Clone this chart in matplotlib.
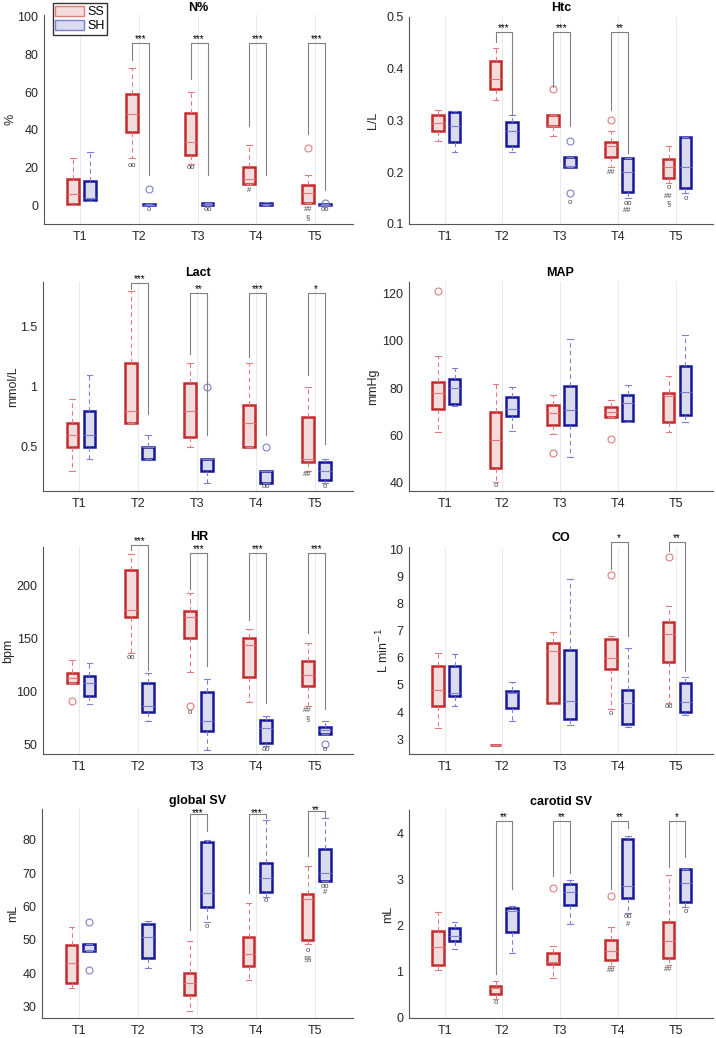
import matplotlib.pyplot as plt
from matplotlib.patches import Patch

plt.rcParams['font.family'] = ['Liberation Sans', 'DejaVu Sans']

W, H = 716, 1038
times = ['T1', 'T2', 'T3', 'T4', 'T5']

# box stats per time point: (whislo, q1, med, q3, whishi), None = no data
# --- N% ---
n_ss = [(0.3, 0.5, 5.8, 14, 25), (25, 39, 48.5, 59, 73), (22, 26.5, 33.5, 49, 60),
        (11.5, 11.5, 14, 20.5, 32), (1, 1, 6.3, 10.5, 16)]
n_ss_out = [[], [], [], [], [30.5]]
n_sh = [(2, 2.5, 4, 13, 28), (0, 0, 0.3, 0.8, 0.8), (0.2, 0.2, 0.6, 1.0, 1.0),
        (0.3, 0.3, 0.8, 1.3, 1.8), (0, 0, 0.2, 0.5, 0.5)]
n_sh_out = [[], [8.5], [], [], [1.0]]
n_sig = [(2, '***', 77, 86, 16), (3, '***', 67, 86, 16), (4, '***', 42, 86, 16), (5, '***', 38, 86, 8)]
n_notes = [(2, 'SS', 21, 'oo'), (2, 'SH', -2.5, 'o'), (3, 'SS', 20, 'oo'), (3, 'SH', -2.1, 'oo'),
           (4, 'SS', 7.6, '#'), (5, 'SS', -2.5, '##'), (5, 'SS', -6.5, '§'), (5, 'SH', -2.5, 'oo')]

# --- Htc ---
h_ss = [(0.26, 0.28, 0.295, 0.311, 0.32), (0.34, 0.36, 0.38, 0.415, 0.44), (0.27, 0.289, 0.29, 0.31, 0.31),
        (0.21, 0.23, 0.25, 0.258, 0.28), (0.18, 0.189, 0.21, 0.225, 0.25)]
h_ss_out = [[], [], [0.36], [0.30], []]
h_sh = [(0.24, 0.258, 0.29, 0.317, 0.318), (0.24, 0.25, 0.28, 0.298, 0.31), (0.211, 0.211, 0.212, 0.23, 0.23),
        (0.15, 0.161, 0.2, 0.227, 0.227), (0.16, 0.169, 0.21, 0.268, 0.268)]
h_sh_out = [[], [], [0.26, 0.16], [], []]
h_sig = [(2, '***', 0.451, 0.471, 0.311), (3, '***', 0.364, 0.471, 0.29), (4, '**', 0.32, 0.471, 0.237)]
h_notes = [(3, 'SH', 0.142, 'o'), (4, 'SS', 0.2, '##'), (4, 'SH', 0.14, 'oo'), (4, 'SH', 0.127, '##'),
           (5, 'SS', 0.17, 'o'), (5, 'SS', 0.153, '##'), (5, 'SS', 0.14, '§'), (5, 'SH', 0.149, 'o')]

# --- Lact ---
l_ss = [(0.3, 0.5, 0.6, 0.7, 0.9), (0.7, 0.7, 0.8, 1.2, 1.8), (0.5, 0.58, 0.8, 1.03, 1.2),
        (0.5, 0.5, 0.7, 0.85, 1.2), (0.3, 0.375, 0.4, 0.75, 1.0)]
l_ss_out = [[], [], [], [], []]
l_sh = [(0.4, 0.5, 0.6, 0.8, 1.1), (0.4, 0.4, 0.5, 0.5, 0.6), (0.2, 0.3, 0.4, 0.4, 0.4),
        (0.2, 0.2, 0.3, 0.3, 0.3), (0.2, 0.22, 0.3, 0.375, 0.4)]
l_sh_out = [[], [], [1.0], [0.5], []]
l_sig = [(2, '***', 1.82, 1.867, 0.77), (3, '**', 1.27, 1.78, 0.6), (4, '***', 1.25, 1.78, 0.6), (5, '*', 1.1, 1.78, 0.52)]
l_notes = [(4, 'SH', 0.167, 'oo'), (5, 'SS', 0.264, '##'), (5, 'SH', 0.167, 'o')]

# --- MAP ---
m_ss = [(61.2, 71.1, 77.7, 82.6, 93.6), (40.3, 45.9, 57.9, 69.9, 81.9), (60.3, 64.5, 69.5, 72.7, 77),
        (67.6, 67.6, 69.9, 71.8, 75.1), (61.4, 65.4, 76.6, 78.1, 85.1)]
m_ss_out = [[121], [], [52.3], [58.2], []]
m_sh = [(72.3, 73.2, 80.1, 83.7, 88.7), (61.9, 68.2, 71.3, 76.3, 80.5), (50.9, 64.3, 70.6, 80.8, 100.7),
        (65.7, 66.2, 73.7, 77.2, 81.1), (65.6, 68.5, 78.3, 89.3, 102.6)]
m_sh_out = [[], [], [], [], []]
m_sig = []
m_notes = [(2, 'SS', 38.6, 'o')]

# --- HR ---
hr_ss = [(108, 108, 112, 117.5, 129.4), (135.7, 170, 177, 214, 229), (118.4, 150, 170, 176, 192.8),
         (90, 113, 143.5, 149.8, 159), (85.5, 105.2, 115.3, 128.4, 145.7)]
hr_ss_out = [[91], [], [86], [], []]
hr_sh = [(88, 95.8, 108, 114.6, 126.9), (72, 80, 85.5, 108, 117.5), (44.7, 62, 71.3, 99, 111),
         (48.4, 51, 65, 73, 76.7), (59.7, 59.7, 62.9, 65.7, 71.3)]
hr_sh_out = [[], [], [], [], [50]]
hr_sig = [(2, '***', 233, 237.6, 120), (3, '***', 196.8, 230.7, 124), (4, '***', 167, 230.7, 89), (5, '***', 154.5, 230.7, 83)]
hr_notes = [(2, 'SS', 132, 'oo'), (3, 'SS', 80, 'o'), (4, 'SH', 45, 'oo'), (5, 'SS', 81.7, '##'),
            (5, 'SS', 73.8, '§'), (5, 'SH', 44.7, 'o')]

# --- CO ---
c_ss = [(3.4, 4.22, 4.81, 5.72, 6.19), (2.77, 2.77, 2.77, 2.77, 2.77), (4.3, 4.35, 6.27, 6.54, 6.97),
        (4.1, 5.58, 5.99, 6.7, 6.81), (4.35, 5.84, 6.9, 7.34, 7.91)]
c_ss_out = [[], [], [], [9.08], [9.73]]
c_sh = [(4.22, 4.59, 4.71, 5.69, 6.13), (3.67, 4.16, 4.72, 4.79, 5.12), (3.53, 3.75, 4.41, 6.3, 8.9),
        (3.44, 3.55, 4.33, 4.8, 6.38), (3.9, 4.0, 4.36, 5.06, 5.28)]
c_sh_out = [[], [], [], [], []]
c_sig = [(4, '*', 9.3, 10.3, 6.8), (5, '**', 9.95, 10.3, 5.5)]
c_notes = [(4, 'SS', 3.96, 'o'), (5, 'SS', 4.2, 'oo')]

# --- global SV ---
g_ss = [(35.6, 37, 42.9, 48.4, 53.9), None, (28.5, 33.5, 37.1, 40.1, 49.7),
        (37.8, 42, 45.7, 50.9, 61.1), (48.6, 50, 62.2, 63.7, 72)]
g_ss_out = [[], [], [], [], []]
g_sh = [(46.5, 46.5, 47, 48.8, 48.8), (41.6, 44.6, 50.7, 54.6, 55.7), (55.4, 59.7, 63.9, 79.2, 80),
        (62.9, 64.2, 68.5, 73, 85.8), (67.5, 67.5, 70, 77.3, 86.5)]
g_sh_out = [[55.3, 40.8], [], [], [], []]
g_sig = [(3, '***', 52.9, 87.7, 82.5), (4, '***', 64, 87.7, 86.5), (5, '**', 75.2, 88.5, 86.8)]
g_notes = [(3, 'SH', 54, 'o'), (4, 'SH', 61.7, 'o'), (5, 'SS', 46.6, 'o'), (5, 'SS', 44.4, '§§'),
           (5, 'SH', 66, 'oo'), (5, 'SH', 64, '#')]

# --- carotid SV ---
k_ss = [(1.03, 1.14, 1.54, 1.89, 2.3), (0.42, 0.51, 0.64, 0.69, 0.8), (0.875, 1.16, 1.22, 1.41, 1.56),
        (1.13, 1.25, 1.45, 1.69, 1.97), (1.14, 1.29, 1.67, 2.08, 3.1)]
k_ss_out = [[], [], [2.81], [2.64], []]
k_sh = [(1.5, 1.66, 1.77, 1.94, 2.08), (1.4, 1.87, 2.32, 2.37, 2.43), (2.03, 2.44, 2.73, 2.89, 2.99),
        (2.28, 2.59, 2.86, 3.87, 3.93), (2.41, 2.5, 2.93, 3.22, 3.23)]
k_sh_out = [[], [], [], [], []]
k_sig = [(2, '**', 0.96, 4.27, 2.8), (3, '**', 3.07, 4.27, 3.13), (4, '**', 2.8, 4.27, 4.1), (5, '*', 3.26, 4.27, 3.48)]
k_notes = [(2, 'SS', 0.33, 'o'), (4, 'SS', 1.02, '##'), (4, 'SH', 2.19, 'oo'), (4, 'SH', 2.03, '#'),
           (5, 'SS', 1.05, '##'), (5, 'SH', 2.31, 'o')]

RED = '#c42a2e'
RED_FILL = '#f3dcdc'
RED_LIGHT = '#e27c7c'
BLUE = '#16189a'
BLUE_FILL = '#dadbee'
BLUE_LIGHT = '#7d7fd0'
OFFSET = {'SS': -0.12, 'SH': 0.17}


def draw_group(ax, boxes, outs, side, ec, fc, lc):
    stats, pos = [], []
    for i, b in enumerate(boxes):
        if b is None:
            continue
        lo, q1, med, q3, hi = b
        stats.append(dict(whislo=lo, q1=q1, med=med, q3=q3, whishi=hi, fliers=outs[i]))
        pos.append(i + 1 + OFFSET[side])
    ax.bxp(stats, positions=pos, widths=0.2, capwidths=0.1, patch_artist=True,
           boxprops=dict(facecolor=fc, edgecolor=ec, linewidth=1.8),
           medianprops=dict(color=lc, linewidth=0.8),
           whiskerprops=dict(color=lc, linestyle=(0, (4, 3)), linewidth=0.8),
           capprops=dict(color=lc, linewidth=0.8),
           flierprops=dict(marker='o', markerfacecolor='none', markeredgecolor=lc,
                           markersize=5, markeredgewidth=0.8),
           manage_ticks=False)


def panel(rect, title, title_xy, ylabel, ylabel_x, ylim, yticks, yticklabels,
          ss, ss_out, sh, sh_out, sig, notes, star_dy=-0.8):
    x0, top, x1, bottom = rect
    ax = fig.add_axes([x0 / W, 1 - bottom / H, (x1 - x0) / W, (bottom - top) / H])
    for t in range(1, 6):
        ax.axvline(t, color='#e6e6e6', lw=0.6, zorder=0)
    draw_group(ax, ss, ss_out, 'SS', RED, RED_FILL, RED_LIGHT)
    draw_group(ax, sh, sh_out, 'SH', BLUE, BLUE_FILL, BLUE_LIGHT)
    for t, stars, lb, tp, rb in sig:
        xl, xr = t + OFFSET['SS'], t + OFFSET['SH']
        ax.plot([xl, xl, xr, xr], [lb, tp, tp, rb], color='#808080', lw=0.8, clip_on=False)
        ax.annotate(stars, ((xl + xr) / 2, tp), xytext=(0, star_dy), textcoords='offset points',
                    ha='center', va='bottom', fontsize=7, annotation_clip=False)
    for t, side, y, txt in notes:
        ax.text(t + OFFSET[side], y, txt, ha='center', va='center', fontsize=5.5,
                color='#444444', clip_on=False)
    ax.set_xlim(0.38, 5.65)
    ax.set_ylim(*ylim)
    ax.set_xticks(range(1, 6))
    ax.set_xticklabels(times)
    ax.set_yticks(yticks)
    ax.set_yticklabels(yticklabels)
    ax.tick_params(length=0, labelsize=9, colors='#262626')
    ax.tick_params(axis='x', pad=5)
    ax.tick_params(axis='y', pad=4)
    for s in ['top', 'right']:
        ax.spines[s].set_visible(False)
    for s in ['left', 'bottom']:
        ax.spines[s].set_color('#555555')
        ax.spines[s].set_linewidth(0.8)
    ax.set_facecolor('none')
    fig.text(title_xy[0] / W, 1 - title_xy[1] / H, title, ha='center', va='center',
             fontsize=9, fontweight='bold')
    fig.text(ylabel_x / W, 1 - (top + bottom) / 2 / H, ylabel, ha='center', va='center',
             rotation=90, fontsize=9, color='#262626')
    return ax


fig = plt.figure(figsize=(W / 100, H / 100), dpi=100)

ax1 = panel((44, 15, 353, 224), 'N%', (198, 8), '%', 10, (-10, 101), range(0, 101, 20),
            ['0', '20', '40', '60', '80', '100'], n_ss, n_ss_out, n_sh, n_sh_out, n_sig, n_notes)
panel((409, 17, 713, 224), 'Htc', (561, 8), 'L/L', 373, (0.1, 0.5), [0.1, 0.2, 0.3, 0.4, 0.5],
      ['0.1', '0.2', '0.3', '0.4', '0.5'], h_ss, h_ss_out, h_sh, h_sh_out, h_sig, h_notes)
panel((43, 282, 353, 491), 'Lact', (198, 273), 'mmol/L', 13, (0.13, 1.875), [0.5, 1, 1.5],
      ['0.5', '1', '1.5'], l_ss, l_ss_out, l_sh, l_sh_out, l_sig, l_notes)
panel((409, 282, 713, 491), 'MAP', (560, 273), 'mmHg', 373, (36.3, 125), range(40, 121, 20),
      ['40', '60', '80', '100', '120'], m_ss, m_ss_out, m_sh, m_sh_out, m_sig, m_notes)
panel((43, 547, 353, 754), 'HR', (199, 537), 'bpm', 8, (40.6, 236), [50, 100, 150, 200],
      ['50', '100', '150', '200'], hr_ss, hr_ss_out, hr_sh, hr_sh_out, hr_sig, hr_notes)
panel((409, 547, 713, 754), 'CO', (561, 538), 'L min$^{-1}$', 383, (2.45, 10.1), range(3, 11),
      [str(v) for v in range(3, 11)], c_ss, c_ss_out, c_sh, c_sh_out, c_sig, c_notes)
panel((42, 809, 353, 1018), 'global SV', (198, 801), 'mL', 13, (26.5, 89.2), range(30, 81, 10),
      ['30', '40', '50', '60', '70', '80'], g_ss, g_ss_out, g_sh, g_sh_out, g_sig, g_notes, star_dy=-3)
panel((409, 810, 713, 1018), 'carotid SV', (561, 802), 'mL', 388, (0, 4.5), range(0, 5),
      ['0', '1', '2', '3', '4'], k_ss, k_ss_out, k_sh, k_sh_out, k_sig, k_notes)

handles = [Patch(facecolor=RED_FILL, edgecolor=RED_LIGHT, label='SS'),
           Patch(facecolor=BLUE_FILL, edgecolor=BLUE_LIGHT, label='SH')]
ax1.legend(handles=handles, loc='upper left', bbox_to_anchor=(0.029, 1.057), fontsize=9,
           frameon=True, fancybox=False, edgecolor='#333333', framealpha=1,
           borderpad=0.2, handletextpad=0.25, labelspacing=0.15, borderaxespad=0,
           handlelength=2.3, handleheight=0.85)

fig.savefig('out.png', dpi=100)
